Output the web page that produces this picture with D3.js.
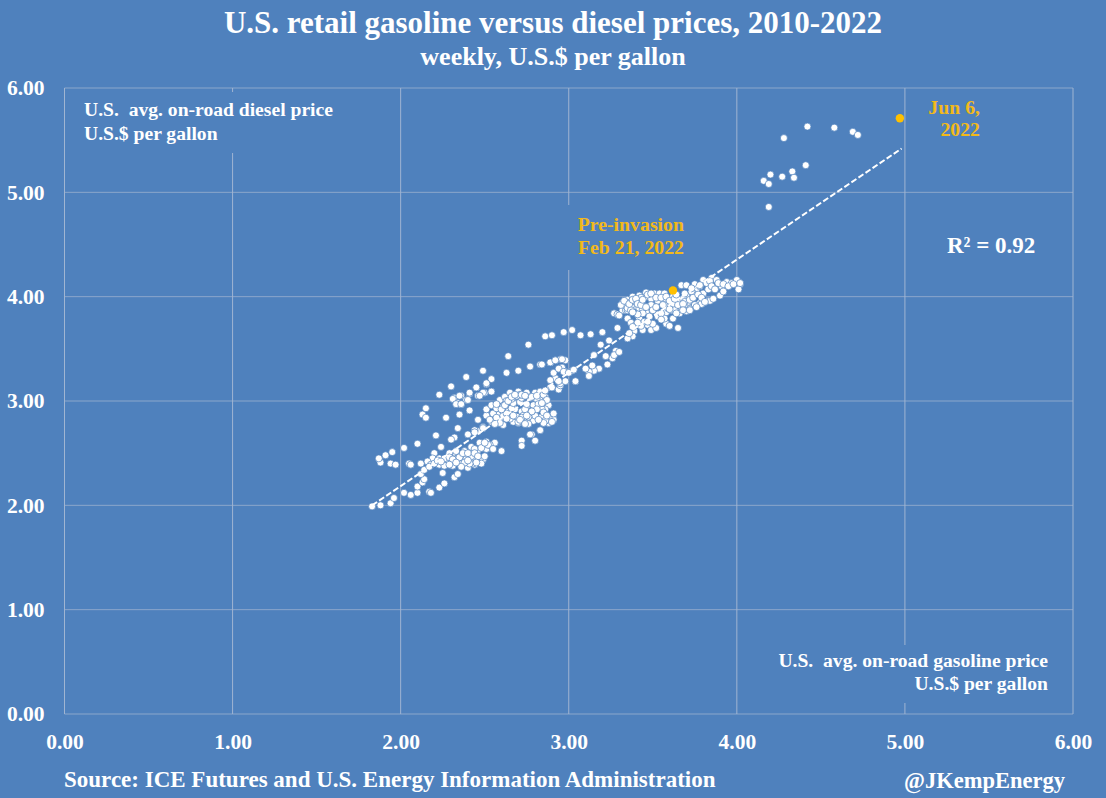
<!DOCTYPE html>
<html>
<head>
<meta charset="utf-8">
<script src="https://cdn.jsdelivr.net/npm/d3@7"></script>
<style>
  html, body { margin: 0; padding: 0; background: #4f81bd; }
  svg { display: block; }
  text { font-family: "Liberation Serif", serif; font-weight: bold; fill: #fff; white-space: pre; }
  .axis path { display: none; }
  .axis line { display: none; }
  .axis text { font-family: "Liberation Serif", serif; font-size: 21.5px; fill: #fff; }
  .grid .h { stroke: #8ca7cb; stroke-width: 1; }
  .grid .v { stroke: #a0b5d2; stroke-width: 1; }
</style>
</head>
<body>
<div id="chart"></div>
<script>
/*************** data, weekly prices, U.S.$ per gallon ***************/

// 2015-2017 low range
var lowGasoline = [1.83, 1.88, 1.94, 1.96, 2.02, 2.06, 2.10, 2.17, 2.18, 2.23, 2.26, 2.32, 2.34, 2.10, 2.13, 2.14,
    2.12, 2.14, 2.25, 1.88, 1.87, 1.91, 1.95, 1.94, 1.97, 2.05, 2.06, 2.02, 2.10, 2.12, 2.21, 2.24,
    2.20, 2.19, 2.16, 2.18, 2.23, 2.25, 2.28, 2.31, 2.35, 2.29, 2.33, 2.36, 2.40, 2.38, 2.42, 2.46,
    2.47, 2.51, 2.56, 2.52, 2.60, 2.49, 2.43, 2.44, 2.40, 2.32, 2.30, 2.40, 2.34, 2.49, 2.46, 2.46,
    2.54, 2.60, 2.35, 2.27, 2.41, 2.15, 2.13, 2.15, 2.27, 2.23, 2.32, 2.34, 2.37, 2.42, 2.39, 2.34,
    2.26, 2.51, 2.53, 2.42, 2.44, 2.43, 2.48, 2.33, 2.44,
    2.17, 2.20, 2.22, 2.26, 2.29, 2.31, 2.35, 2.37, 2.40, 2.44, 2.46, 2.50, 2.45, 2.41, 2.38, 2.36,
    2.29, 2.24, 2.48, 2.52, 2.55, 2.50, 2.40, 2.33];
var lowDiesel = [1.99, 2.00, 2.02, 2.07, 2.12, 2.10, 2.12, 2.13, 2.12, 2.17, 2.21, 2.27, 2.30, 2.18, 2.22, 2.25,
    2.30, 2.34, 2.31, 2.41, 2.45, 2.48, 2.51, 2.40, 2.39, 2.40, 2.39, 2.55, 2.59, 2.40, 2.67, 2.56,
    2.50, 2.45, 2.42, 2.39, 2.39, 2.42, 2.40, 2.38, 2.40, 2.50, 2.49, 2.47, 2.45, 2.52, 2.52, 2.53,
    2.60, 2.61, 2.60, 2.55, 2.52, 2.44, 2.43, 2.39, 2.36, 2.65, 2.63, 2.68, 2.74, 2.75, 2.71, 2.82,
    2.81, 2.83, 2.87, 2.84, 2.91, 2.93, 2.87, 2.84, 2.44, 2.45, 2.44, 2.45, 2.48, 2.47, 2.44, 2.45,
    2.38, 2.54, 2.58, 2.56, 2.54, 2.40, 2.40, 2.52, 2.72,
    2.37, 2.40, 2.43, 2.45, 2.46, 2.44, 2.46, 2.50, 2.50, 2.50, 2.47, 2.47, 2.41, 2.40, 2.41, 2.37,
    2.39, 2.42, 2.55, 2.58, 2.54, 2.60, 2.43, 2.41];

// late 2017 to 2019 and 2011 cooling: upper arm of the low range
var armGasoline = [2.32, 2.36, 2.34, 2.36, 2.39, 2.41, 2.46, 2.50, 2.54, 2.45, 2.51, 2.30, 2.23, 2.49, 2.39, 2.63,
    2.70, 2.77, 2.83, 2.89, 2.92, 2.95, 2.98, 2.54, 2.51, 2.45, 2.41, 2.49, 2.54, 2.47, 2.31, 2.35,
    2.40, 2.33, 2.36, 2.64, 2.76];
var armDiesel = [3.03, 3.05, 2.98, 2.97, 3.01, 3.07, 3.05, 3.08, 3.09, 3.13, 3.16, 3.14, 3.06, 3.29, 3.23, 3.27,
    3.29, 3.33, 3.35, 3.37, 3.39, 3.40, 3.39, 3.21, 3.17, 3.13, 3.08, 3.08, 3.09, 3.05, 3.02, 3.05,
    3.01, 2.97, 2.97, 3.43, 3.54];

// 2019-2020 dense cluster around 2.70 / 2.90
var midGasoline = [2.51, 2.51, 2.54, 2.59, 2.62, 2.65, 2.70, 2.75, 2.80, 2.83, 2.86, 2.88, 2.86, 2.91, 2.91, 2.88,
    2.83, 2.78, 2.79, 2.75, 2.70, 2.67, 2.61, 2.59, 2.54, 2.49, 2.44, 2.55, 2.59, 2.63, 2.67, 2.71,
    2.75, 2.79, 2.83, 2.77, 2.72, 2.68, 2.64, 2.61, 2.65, 2.69, 2.73, 2.80, 2.84, 2.80, 2.72, 2.83,
    2.72, 2.72, 2.77, 2.80, 2.83, 2.88, 2.91, 2.88, 2.91, 2.60, 2.62, 2.65, 2.68, 2.71, 2.74, 2.77,
    2.81, 2.86, 2.87, 2.57, 2.66, 2.70, 2.76, 2.78, 2.74, 2.84, 2.67, 2.63, 2.69, 2.75, 2.82, 2.72,
    2.85, 2.61, 2.57, 2.66, 2.76, 2.86,
    2.53, 2.57, 2.60, 2.62, 2.64, 2.66, 2.68, 2.72, 2.74, 2.78, 2.81, 2.85, 2.87, 2.84, 2.81, 2.78,
    2.75, 2.71, 2.67, 2.63, 2.59, 2.56, 2.85, 2.87, 2.90, 2.82, 2.74];
var midDiesel = [2.86, 2.92, 2.96, 3.01, 3.04, 3.08, 3.09, 3.08, 3.08, 3.09, 3.04, 2.96, 2.92, 2.88, 2.83, 2.79,
    2.72, 2.68, 2.81, 2.80, 2.79, 2.80, 2.77, 2.82, 2.80, 2.74, 2.70, 2.88, 2.88, 3.00, 3.01, 2.99,
    2.95, 2.96, 2.95, 2.88, 2.90, 2.92, 2.90, 2.86, 2.83, 2.85, 2.86, 2.86, 2.85, 3.03, 3.03, 3.01,
    2.62, 2.57, 2.68, 2.62, 2.72, 2.79, 2.82, 2.84, 2.88, 2.92, 2.96, 3.00, 3.05, 3.06, 3.05, 3.03,
    3.02, 3.00, 2.82, 2.93, 2.93, 2.80, 2.78, 2.90, 2.92, 2.92, 2.98, 2.88, 3.05, 2.97, 2.97, 2.84,
    2.89, 2.95, 2.97, 3.02, 2.85, 2.81,
    2.82, 2.84, 2.92, 2.96, 3.00, 3.04, 3.06, 3.06, 3.05, 3.04, 3.05, 3.06, 3.01, 2.98, 2.92, 2.90,
    2.86, 2.82, 2.86, 2.83, 2.79, 2.78, 2.79, 2.86, 2.80, 2.82, 2.78];

// 2012-2014 bridge up the trend line
var bridgeGasoline = [2.86, 2.90, 2.97, 3.02, 3.07, 3.13, 3.20, 3.29, 3.24, 3.19, 3.28, 3.26, 3.23, 3.18, 3.15, 3.12,
    3.14, 3.10, 3.15, 3.04, 3.02, 2.99, 2.96, 2.84, 2.89, 2.92, 2.96, 2.98, 2.92, 2.89, 2.94, 2.95,
    2.86, 2.90, 2.95, 2.98, 2.94, 2.89, 2.91, 2.94, 2.97, 3.00, 3.03, 3.04, 3.22, 3.27, 3.30, 3.12];
var bridgeDiesel = [3.62, 3.63, 3.66, 3.68, 3.63, 3.64, 3.66, 3.70, 3.58, 3.54, 3.48, 3.41, 3.35, 3.31, 3.29, 3.28,
    3.34, 3.31, 3.44, 3.19, 3.29, 3.27, 3.40, 3.35, 3.37, 3.39, 3.32, 3.28, 3.22, 3.13, 3.11, 3.15,
    3.10, 3.13, 3.17, 3.19, 3.19, 3.20, 3.27, 3.31, 3.28, 3.27, 3.30, 3.19, 3.43, 3.44, 3.47, 3.24];

// 2010-2014 upper cluster around 3.60 / 3.90
var highGasoline = [3.27, 3.29, 3.32, 3.34, 3.32, 3.35, 3.38, 3.42, 3.46, 3.46, 3.51, 3.54, 3.57, 3.62, 3.49, 3.53,
    3.57, 3.62, 3.66, 3.70, 3.67, 3.70, 3.75, 3.76, 3.80, 3.82, 3.85, 3.88, 3.94, 3.97, 4.00, 4.02,
    4.01, 3.91, 3.86, 3.80, 3.78, 3.75, 3.83, 3.90, 3.71, 3.67, 3.62, 3.58, 3.58, 3.53, 3.46, 3.49,
    3.40, 3.37, 3.35, 3.35, 3.37, 3.40, 3.42, 3.48, 3.47, 3.44, 3.39, 3.38, 3.35, 3.49, 3.53, 3.74,
    3.71, 3.66, 3.70, 3.61, 3.57, 3.33, 3.36, 3.40, 3.43, 3.35, 3.37, 3.42, 3.50, 3.55, 3.59, 3.63,
    3.68, 3.73, 3.78, 3.84, 3.65, 3.60, 3.52, 3.45, 3.44, 3.57, 3.69, 3.72, 3.79, 3.84, 3.92,
    3.30, 3.31, 3.33, 3.36, 3.38, 3.40, 3.41, 3.43, 3.44, 3.47, 3.49, 3.52, 3.55, 3.58, 3.60, 3.63,
    3.65, 3.68, 3.72, 3.74, 3.77, 3.79, 3.83, 3.85, 3.87, 3.89, 3.92, 3.95, 3.98, 4.02, 3.78, 3.73,
    3.69, 3.64, 3.56, 3.60, 3.64, 3.68, 3.72, 3.76, 3.81, 3.86, 3.55, 3.50, 3.47, 3.43, 3.41, 3.38,
    3.36, 3.44, 3.41, 3.38, 3.46, 3.52];
var highDiesel = [3.84, 3.83, 3.87, 3.87, 3.94, 3.97, 4.00, 4.01, 4.00, 4.04, 4.03, 4.03, 4.03, 4.00, 3.98, 3.96,
    3.96, 3.93, 3.97, 4.01, 4.11, 4.11, 4.12, 4.07, 4.16, 4.13, 4.18, 4.16, 4.14, 4.13, 4.16, 4.12,
    4.07, 4.10, 4.08, 4.03, 3.94, 3.92, 3.96, 4.01, 3.90, 3.87, 3.79, 3.74, 3.85, 3.83, 3.85, 3.92,
    3.91, 3.91, 3.87, 3.79, 3.75, 3.73, 3.79, 3.81, 3.73, 3.68, 3.67, 3.62, 3.60, 3.68, 3.81, 4.03,
    3.95, 3.84, 3.86, 3.87, 3.79, 3.92, 3.94, 3.95, 3.99, 3.89, 3.87, 3.89, 3.87, 3.84, 3.89, 3.87,
    3.98, 4.05, 4.10, 4.15, 3.70, 3.72, 3.70, 3.76, 3.88, 3.92, 3.95, 3.88, 3.93, 3.96, 4.05,
    3.82, 3.92, 3.96, 3.93, 3.97, 3.98, 3.93, 3.92, 3.97, 4.02, 4.03, 3.99, 3.99, 4.00, 3.96, 3.98,
    3.92, 3.93, 3.97, 3.99, 4.02, 3.99, 4.07, 4.10, 4.07, 4.13, 4.12, 4.10, 4.12, 4.13, 4.11, 4.08,
    4.03, 4.02, 3.92, 3.88, 3.84, 3.87, 3.87, 3.90, 3.95, 3.98, 3.78, 3.74, 3.76, 3.72, 3.75, 3.71,
    3.65, 3.84, 3.83, 3.85, 3.90, 3.90];

// spring 2022 spike
var spikeGasoline = [4.16, 4.20, 4.19, 4.27, 4.33, 4.34, 4.41, 4.19, 4.28, 4.42, 4.58, 4.69, 4.72];
var spikeDiesel = [5.11, 5.17, 5.08, 5.15, 5.20, 5.14, 5.26, 4.86, 5.52, 5.63, 5.62, 5.58, 5.55];

// highlighted weeks
var markedGasoline = [3.62, 4.97];
var markedDiesel = [4.06, 5.71];

// fitted line ends, as plotted
var trendGasoline = [1.83, 4.98];
var trendDiesel = [2.00, 5.42];

var tickValues = [0, 1, 2, 3, 4, 5, 6];

/*************************************** GRAPH *********************************************/

var margin = {
        top: 88,
        right: 33,
        bottom: 84,
        left: 64.5
    },
    width = 1106 - margin.left - margin.right,
    height = 798 - margin.top - margin.bottom;

var x = d3.scaleLinear().domain([0, 6]).range([0, width]);
var y = d3.scaleLinear().domain([0, 6]).range([height, 0]);

var root = d3.select("#chart").append("svg")
    .attr("width", 1106)
    .attr("height", 798);

var svg = root.append("g")
    .attr("transform", "translate(" + margin.left + "," + margin.top + ")");

// grid
svg.append("g")
    .attr("class", "grid")
    .selectAll("line.h")
    .data(tickValues)
    .join("line")
    .attr("class", "h")
    .attr("x1", 0)
    .attr("x2", width)
    .attr("y1", function(d) { return y(d); })
    .attr("y2", function(d) { return y(d); });

svg.append("g")
    .attr("class", "grid")
    .selectAll("line.v")
    .data(tickValues)
    .join("line")
    .attr("class", "v")
    .attr("y1", 0)
    .attr("y2", height)
    .attr("x1", function(d) { return x(d); })
    .attr("x2", function(d) { return x(d); });

// axes
var xAxis = d3.axisBottom(x)
    .tickValues(tickValues)
    .tickFormat(d3.format(".2f"))
    .tickSize(0)
    .tickPadding(20);

var yAxis = d3.axisLeft(y)
    .tickValues(tickValues)
    .tickFormat(d3.format(".2f"))
    .tickSize(0)
    .tickPadding(20);

svg.append("g")
    .attr("class", "x axis")
    .attr("transform", "translate(0," + height + ")")
    .call(xAxis);

svg.append("g")
    .attr("class", "y axis")
    .call(yAxis);

// text boxes sit on top of the grid, with the background colour
function labelBox(x0, y0, w, h) {
    root.append("rect")
        .attr("x", x0)
        .attr("y", y0)
        .attr("width", w)
        .attr("height", h)
        .attr("fill", "#4f81bd");
}

labelBox(72, 92, 270, 61);
labelBox(560, 205, 135, 65);
labelBox(770, 645, 285, 58);

function label(px, py, txt, size, anchor, color) {
    return root.append("text")
        .attr("x", px)
        .attr("y", py)
        .attr("text-anchor", anchor || "start")
        .style("font-size", size + "px")
        .style("fill", color || "#fff")
        .text(txt);
}

// scatter
var weeks = d3.zip(lowGasoline, lowDiesel)
    .concat(d3.zip(armGasoline, armDiesel))
    .concat(d3.zip(midGasoline, midDiesel))
    .concat(d3.zip(bridgeGasoline, bridgeDiesel))
    .concat(d3.zip(highGasoline, highDiesel))
    .concat(d3.zip(spikeGasoline, spikeDiesel));

svg.append("g")
    .selectAll("circle")
    .data(weeks)
    .join("circle")
    .attr("cx", function(d) { return x(d[0]); })
    .attr("cy", function(d) { return y(d[1]); })
    .attr("r", 3.5)
    .attr("fill", "#fff")
    .attr("stroke", "#4f81bd")
    .attr("stroke-width", 0.7);

var trend = d3.line()
    .x(function(d) { return x(d[0]); })
    .y(function(d) { return y(d[1]); });

svg.append("path")
    .attr("d", trend(d3.zip(trendGasoline, trendDiesel)))
    .attr("fill", "none")
    .attr("stroke", "#fff")
    .attr("stroke-width", 2)
    .attr("stroke-dasharray", "6 2.5");

svg.append("g")
    .selectAll("circle")
    .data(d3.zip(markedGasoline, markedDiesel))
    .join("circle")
    .attr("cx", function(d) { return x(d[0]); })
    .attr("cy", function(d) { return y(d[1]); })
    .attr("r", 4.2)
    .attr("fill", "#ffc000");

// titles and notes
label(553, 33, "U.S. retail gasoline versus diesel prices, 2010-2022", 31, "middle");
label(553, 65, "weekly, U.S.$ per gallon", 26, "middle");

label(84, 116, "U.S.  avg. on-road diesel price", 19.6);
label(84, 140, "U.S.$ per gallon", 19.6);

label(1048, 667, "U.S.  avg. on-road gasoline price", 19.6, "end");
label(1048, 690, "U.S.$ per gallon", 19.6, "end");

label(684, 231, "Pre-invasion", 19.8, "end", "#f2b91a");
label(684, 254, "Feb 21, 2022", 19.8, "end", "#f2b91a");
label(980, 114, "Jun 6,", 19.8, "end", "#f2b91a");
label(980, 136, "2022", 19.8, "end", "#f2b91a");
label(947, 253, "R\u00b2 = 0.92", 23);

label(64, 787, "Source: ICE Futures and U.S. Energy Information Administration", 23);
label(1065, 788, "@JKempEnergy", 22.5, "end");
</script>
</body>
</html>
